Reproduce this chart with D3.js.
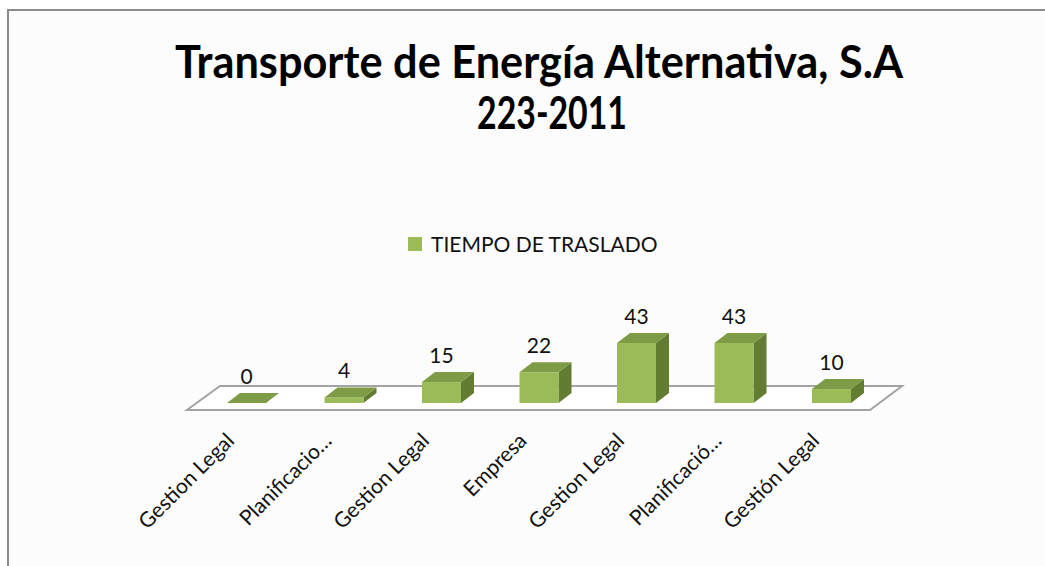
<!DOCTYPE html>
<html><head><meta charset="utf-8">
<script src="https://cdn.jsdelivr.net/npm/d3@7"></script>
<style>
html,body{margin:0;padding:0;background:#fff;}
svg{display:block;font-family:Lato,"Open Sans",sans-serif;}
</style></head>
<body>
<svg id="c" width="1045" height="566"></svg>
<script>
const titleLines = ["Transporte de Energía Alternativa, S.A", "223-2011"];
const seriesName = "TIEMPO DE TRASLADO";
const categories = ["Gestion Legal", "Planificacio…", "Gestion Legal", "Empresa", "Gestion Legal", "Planificació…", "Gestión Legal"];
const values = [0, 4, 15, 22, 43, 43, 10];

(function () {
const svg = d3.select("#c");
const W = 1045, H = 566;

svg.append("rect").attr("x", 8).attr("y", 10).attr("width", W + 10).attr("height", H + 10)
  .attr("fill", "#fcfcfc").attr("stroke", "#8a8a8a").attr("stroke-width", 2);

function squeeze(sel, targetW) {
  const w = sel.node().getComputedTextLength();
  if (w > targetW) sel.attr("textLength", targetW).attr("lengthAdjust", "spacingAndGlyphs");
}

const t1 = svg.append("text").attr("x", 539).attr("y", 78).attr("text-anchor", "middle")
  .attr("font-weight", "bold").attr("font-size", 46).attr("fill", "#000").text(titleLines[0]);
squeeze(t1, 728);
const t2 = svg.append("text").attr("x", 552).attr("y", 129).attr("text-anchor", "middle")
  .attr("font-weight", "bold").attr("font-size", 46).attr("fill", "#000").text(titleLines[1]);
squeeze(t2, 150);

const cFront = "#9bbb59", cTop = "#7e9b46", cSide = "#627d32";
svg.append("rect").attr("x", 408).attr("y", 237).attr("width", 14).attr("height", 14).attr("fill", cFront);
const lg = svg.append("text").attr("x", 431).attr("y", 252).attr("font-size", 21).attr("fill", "#111").text(seriesName);
squeeze(lg, 232);

const x = d3.scaleBand().domain(d3.range(categories.length)).range([168.5, 909.5])
  .paddingInner(0.6).paddingOuter(0.6);
const y = d3.scaleLinear().domain([0, 50]).range([403, 333.25]);
const dx = 13, dy = -10;

const fy = 410, by = 386;
svg.append("path")
  .attr("d", `M187,${fy} L870,${fy} L902,${by} L220,${by} Z`)
  .attr("fill", "#fff").attr("stroke", "#a3a3a3").attr("stroke-width", 2);

const g = svg.append("g");
values.forEach((v, i) => {
  const x0 = x(i), x1 = x0 + x.bandwidth();
  const y0 = y(0), y1 = y(v);
  g.append("path").attr("d", `M${x1},${y0} L${x1 + dx},${y0 + dy} L${x1 + dx},${y1 + dy} L${x1},${y1} Z`).attr("fill", cSide);
  if (v > 0) g.append("rect").attr("x", x0).attr("y", y1).attr("width", x1 - x0).attr("height", y0 - y1).attr("fill", cFront);
  g.append("path").attr("d", `M${x0},${y1} L${x1},${y1} L${x1 + dx},${y1 + dy} L${x0 + dx},${y1 + dy} Z`).attr("fill", cTop);
  g.append("text").attr("x", x0 + x.bandwidth() / 2).attr("y", y1 + dy - 9)
    .attr("text-anchor", "middle").attr("font-size", 21).attr("fill", "#111").text(v);
});

categories.forEach((c, i) => {
  const cx = x(i) + x.bandwidth() / 2 - 11;
  const cy = 442;
  svg.append("text").attr("transform", `translate(${cx},${cy}) rotate(-45)`)
    .attr("text-anchor", "end").attr("font-size", 21).attr("fill", "#111").text(c);
});
})();
</script>
</body></html>
